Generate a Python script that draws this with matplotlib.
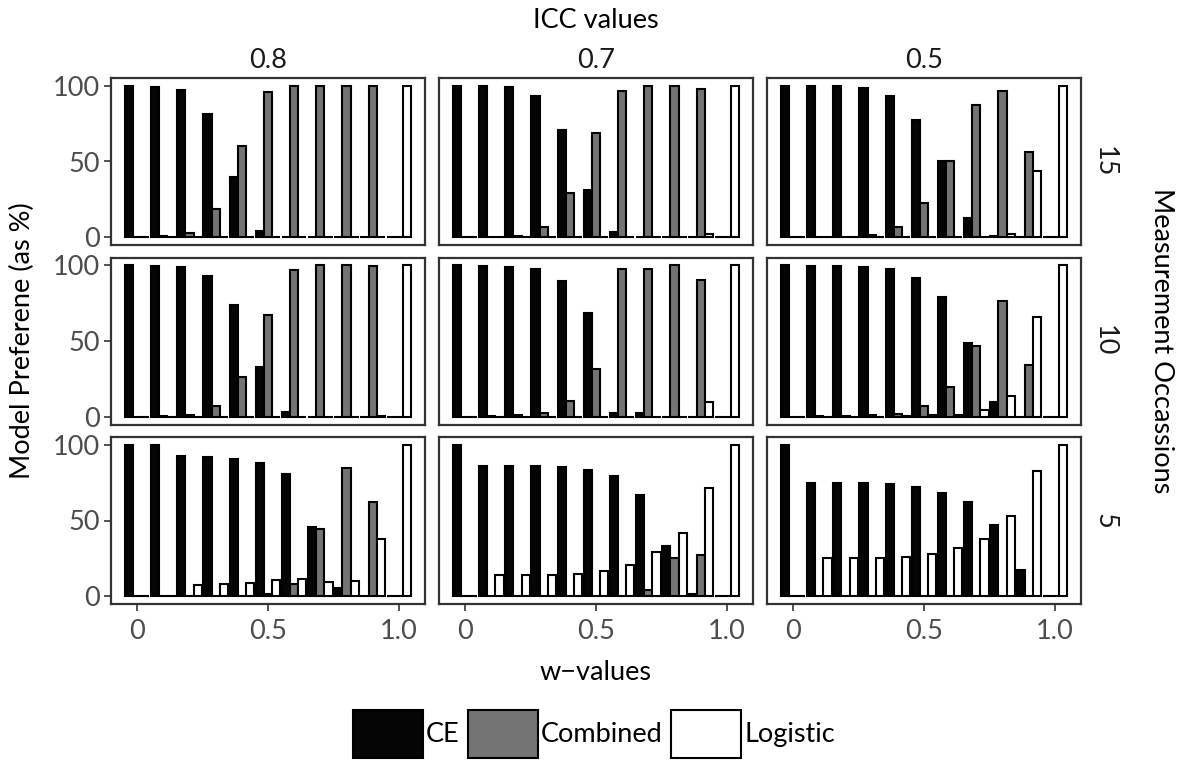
import numpy as np
import matplotlib.pyplot as plt
from matplotlib.patches import Patch

plt.rcParams['font.family'] = ['Lato', 'DejaVu Sans']

# w-values on the x axis, facets: rows = measurement occasions, cols = ICC
w_values = [0.0, 0.1, 0.2, 0.3, 0.4, 0.5, 0.6, 0.7, 0.8, 0.9, 1.0]
icc_values = ["0.8", "0.7", "0.5"]
occasions = ["15", "10", "5"]
models = ["CE", "Combined", "Logistic"]

# 15 occasions
ce_m15_icc08 = [100, 99, 97, 81, 40, 4, 0.5, 0, 0, 0, 0]
comb_m15_icc08 = [0, 1, 3, 19, 60, 96, 99.5, 100, 100, 100, 0]
log_m15_icc08 = [0, 0, 0, 0, 0, 0, 0, 0, 0, 0, 100]

ce_m15_icc07 = [100, 99.7, 99, 93, 71, 31, 3.5, 0, 0, 0, 0]
comb_m15_icc07 = [0, 0.3, 1, 7, 29, 69, 96.5, 100, 100, 97.5, 0]
log_m15_icc07 = [0, 0, 0, 0, 0, 0, 0, 0, 0, 2.5, 100]

ce_m15_icc05 = [100, 100, 99.8, 98.5, 93, 77.5, 50, 12.5, 1, 0, 0]
comb_m15_icc05 = [0, 0, 0.2, 1.5, 7, 22.5, 50, 87.5, 96.5, 56, 0]
log_m15_icc05 = [0, 0, 0, 0, 0, 0, 0, 0, 2.5, 44, 100]

# 10 occasions
ce_m10_icc08 = [100, 99.5, 98.5, 92.5, 74, 33, 3.5, 0, 0, 0, 0]
comb_m10_icc08 = [0, 0.5, 1.5, 7.5, 26, 67, 96.5, 100, 100, 99.5, 0]
log_m10_icc08 = [0, 0, 0, 0, 0, 0, 0, 0, 0, 0.5, 100]

ce_m10_icc07 = [100, 99.5, 99, 97.5, 89.5, 68.5, 2.5, 2.5, 0, 0, 0]
comb_m10_icc07 = [0, 0.5, 1, 2.5, 10.5, 31.5, 97.5, 97.5, 100, 90, 0]
log_m10_icc07 = [0, 0, 0, 0, 0, 0, 0, 0, 0, 10, 100]

ce_m10_icc05 = [100, 99.5, 99.5, 99, 97.5, 91.5, 79, 48.5, 9.5, 0, 0]
comb_m10_icc05 = [0, 0.5, 0.5, 1, 2, 7.5, 19.5, 47, 76.5, 34, 0]
log_m10_icc05 = [0, 0, 0, 0, 0.5, 1, 1.5, 4.5, 14, 66, 100]

# 5 occasions
ce_m5_icc08 = [100, 100, 92.5, 91.5, 90.5, 88, 80.5, 46, 5.5, 0, 0]
comb_m5_icc08 = [0, 0, 0, 0.5, 0.5, 1.5, 8, 44.5, 84.5, 62.5, 0]
log_m5_icc08 = [0, 0, 7.5, 8, 9, 10.5, 11.5, 9.5, 10, 37.5, 100]

ce_m5_icc07 = [100, 86, 86, 86, 85, 83.5, 79, 67, 33, 1.5, 0]
comb_m5_icc07 = [0, 0, 0, 0, 0, 0, 0, 4, 25.5, 27, 0]
log_m5_icc07 = [0, 14, 14, 14, 15, 16.5, 21, 29, 41.5, 71.5, 100]

ce_m5_icc05 = [100, 75, 75, 75, 74, 72, 68, 62.5, 47, 17.5, 0]
comb_m5_icc05 = [0, 0, 0, 0, 0, 0, 0, 0, 0, 0, 0]
log_m5_icc05 = [0, 25, 25, 25, 26, 28, 32, 37.5, 53, 82.5, 100]

panels = [
    [(ce_m15_icc08, comb_m15_icc08, log_m15_icc08),
     (ce_m15_icc07, comb_m15_icc07, log_m15_icc07),
     (ce_m15_icc05, comb_m15_icc05, log_m15_icc05)],
    [(ce_m10_icc08, comb_m10_icc08, log_m10_icc08),
     (ce_m10_icc07, comb_m10_icc07, log_m10_icc07),
     (ce_m10_icc05, comb_m10_icc05, log_m10_icc05)],
    [(ce_m5_icc08, comb_m5_icc08, log_m5_icc08),
     (ce_m5_icc07, comb_m5_icc07, log_m5_icc07),
     (ce_m5_icc05, comb_m5_icc05, log_m5_icc05)],
]

fills = ["#050505", "#747474", "#ffffff"]
FS = 19.5
W, H = 1186, 765

fig = plt.figure(figsize=(W / 100, H / 100), dpi=100)

def px_axes(left, top, width, height):
    return fig.add_axes([left / W, 1 - (top + height) / H, width / W, height / H])

col_left = [111, 439, 767]
row_top = [78, 257.5, 437]
pw, ph = 314, 167
bw = 0.031
x = np.array(w_values)

for r in range(3):
    for c in range(3):
        ax = px_axes(col_left[c], row_top[r], pw, ph)
        for k in range(3):
            ax.bar(x + (k - 1) * bw, panels[r][c][k], width=bw, color=fills[k],
                   edgecolor="black", linewidth=1.5)
        ax.set_xlim(-0.1, 1.1)
        ax.set_ylim(-5, 105)
        for s in ax.spines.values():
            s.set_color("#333333")
            s.set_linewidth(1.6)
        ax.tick_params(colors="#333333", labelcolor="#4d4d4d", labelsize=FS,
                       length=5, width=1.2, pad=3)
        ax.tick_params(axis="x", pad=6)
        ax.set_xticks([0, 0.5, 1.0])
        ax.set_xticklabels(["0", "0.5", "1.0"])
        ax.set_yticks([0, 50, 100])
        if c > 0:
            ax.tick_params(axis="y", left=False, labelleft=False)
        if r < 2:
            ax.tick_params(axis="x", bottom=False, labelbottom=False)
        if r == 0:
            ax.text(0.5, 1.03, icc_values[c], transform=ax.transAxes, ha="center",
                    va="bottom", fontsize=FS, color="#1a1a1a")
        if c == 2:
            ax.text(1.035, 0.5, occasions[r], transform=ax.transAxes, ha="left",
                    va="center", rotation=270, fontsize=FS, color="#1a1a1a")

fig.text(596 / W, 1 - 20 / H, "ICC values", ha="center", va="center", fontsize=FS)
fig.text(1162 / W, 1 - 341 / H, "Measurement Occassions", ha="center", va="center",
         rotation=270, fontsize=FS)
fig.text(22 / W, 1 - 341 / H, "Model Preferene (as %)", ha="center", va="center",
         rotation=90, fontsize=FS)
fig.text(596 / W, 1 - 672 / H, "w\u2212values", ha="center", va="center", fontsize=FS)

handles = [Patch(facecolor=f, edgecolor="black", linewidth=1.5) for f in fills]
fig.legend(handles, models, loc="center", bbox_to_anchor=(594 / W, 1 - 734 / H),
           ncol=3, frameon=False, fontsize=FS, handlelength=2.6, handleheight=2.35,
           handletextpad=0.1, columnspacing=0.3, borderpad=0)

fig.savefig("out.png", dpi=100)
